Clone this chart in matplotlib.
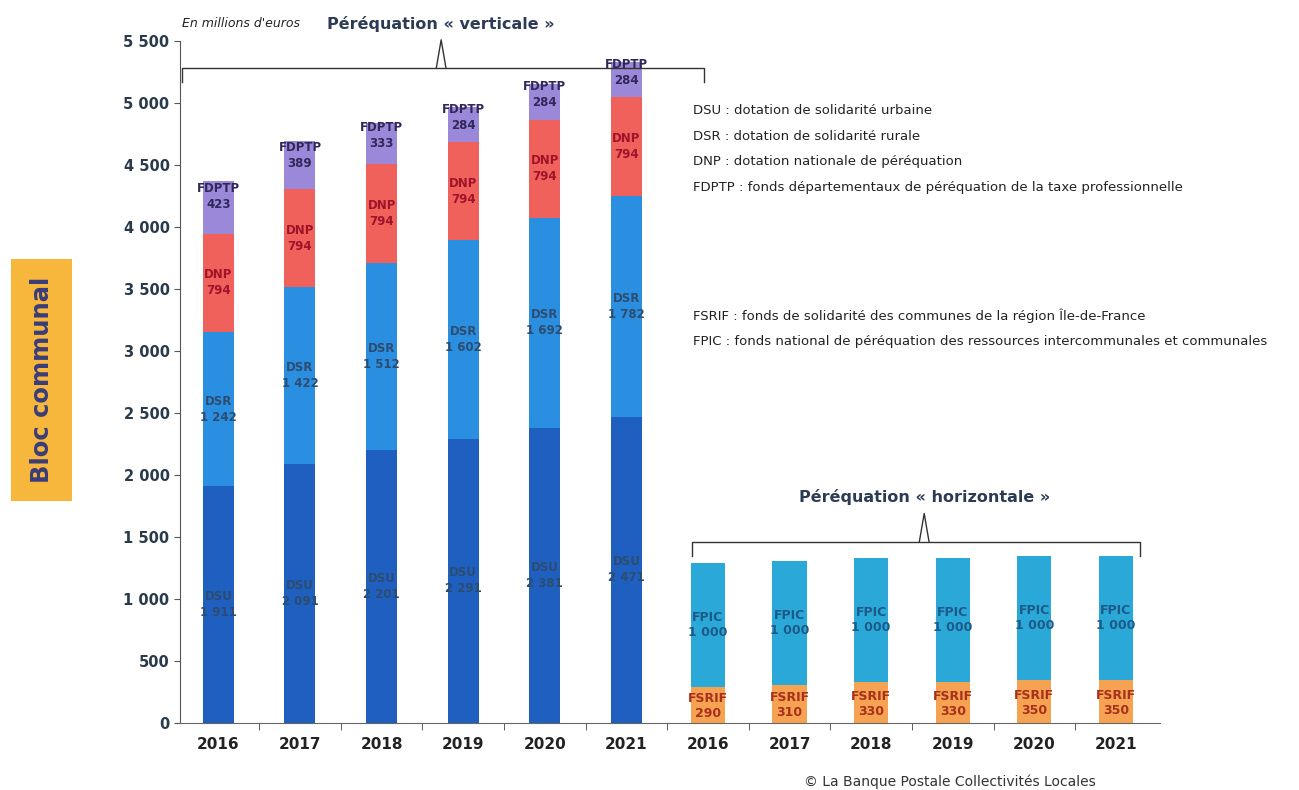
import matplotlib.pyplot as plt
import numpy as np

# data (millions d'euros)
years = ["2016", "2017", "2018", "2019", "2020", "2021"]
dsu = [1911, 2091, 2201, 2291, 2381, 2471]
dsr = [1242, 1422, 1512, 1602, 1692, 1782]
dnp = [794, 794, 794, 794, 794, 794]
fdptp = [423, 389, 333, 284, 284, 284]
fsrif = [290, 310, 330, 330, 350, 350]
fpic = [1000, 1000, 1000, 1000, 1000, 1000]

defs_vert = ["DSU : dotation de solidarité urbaine",
             "DSR : dotation de solidarité rurale",
             "DNP : dotation nationale de péréquation",
             "FDPTP : fonds départementaux de péréquation de la taxe professionnelle"]
defs_horiz = ["FSRIF : fonds de solidarité des communes de la région Île-de-France",
              "FPIC : fonds national de péréquation des ressources intercommunales et communales"]

fam = ["DejaVu Sans"]

def fmt(v):
    return "{:,}".format(v).replace(",", " ")

fig = plt.figure(figsize=(12.99, 7.90), dpi=100)
ax = fig.add_axes([0.1386, 0.0848, 0.7544, 0.8632])

n = len(years)
xv = np.arange(n)
xh = np.arange(n) + n

# stacked "verticale" bars
segs = [("DSU", dsu, "#1f5fc0", "#2d4d70"),
        ("DSR", dsr, "#2a8fe0", "#2d4d70"),
        ("DNP", dnp, "#f0615c", "#a0142a"),
        ("FDPTP", fdptp, "#9c88d8", "#30285a")]
bottom = np.zeros(n)
for name, vals, col, tcol in segs:
    vals = np.array(vals)
    ax.bar(xv, vals, 0.38, bottom=bottom, color=col, zorder=2)
    for i in range(n):
        yy = bottom[i] + vals[i] / 2
        if name == "FDPTP":
            yy = bottom[i] + vals[i] * 0.7
        ax.text(xv[i], yy, name + "\n" + fmt(int(vals[i])), ha="center", va="center",
                fontsize=8.5, color=tcol, family=fam, fontweight="bold", linespacing=1.3, zorder=3)
    bottom = bottom + vals

# stacked "horizontale" bars
segs_h = [("FSRIF", fsrif, "#f5a352", "#a8301c"),
          ("FPIC", fpic, "#2aa9d9", "#1d5a88")]
bottom = np.zeros(n)
for name, vals, col, tcol in segs_h:
    vals = np.array(vals)
    ax.bar(xh, vals, 0.42, bottom=bottom, color=col, zorder=2)
    for i in range(n):
        ax.text(xh[i], bottom[i] + vals[i] / 2 - (0 if name == "FPIC" else 10),
                name + "\n" + fmt(int(vals[i])), ha="center", va="center",
                fontsize=9, color=tcol, family=fam, fontweight="bold", linespacing=1.2, zorder=3)
    bottom = bottom + vals

ax.set_xlim(-0.47, 11.54)
ax.set_ylim(0, 5500)
ax.set_yticks(np.arange(0, 5501, 500))
ax.set_yticklabels([fmt(v) for v in range(0, 5501, 500)], fontsize=10.5,
                   fontweight="bold", color="#2a3a4a")
ax.set_xticks(np.concatenate([xv, xh]))
ax.set_xticklabels(years + years, fontsize=11, fontweight="bold", color="#222222")
ax.set_xticks(np.arange(0.5, 11.5, 1), minor=True)
ax.tick_params(axis="x", which="major", length=0, pad=10)
ax.tick_params(axis="x", which="minor", length=5, color="#444444")
ax.tick_params(axis="y", length=4, color="#555555")
for s in ["top", "right"]:
    ax.spines[s].set_visible(False)
ax.spines["left"].set_color("#555555")
ax.spines["bottom"].set_color("#666666")


def brace(x0, x1, xm, y, h, up):
    kw = dict(color="#333333", lw=1.0, clip_on=False, zorder=4)
    ax.plot([x0, x0, x1, x1], [y - h, y, y, y - h], **kw)
    ax.plot([xm - 0.06, xm, xm + 0.06], [y, y + up, y], **kw)

brace(-0.44, 5.95, 2.73, 5280, 110, 230)
brace(5.8, 11.3, 8.65, 1460, 110, 230)

ax.text(2.73, 5640, "Péréquation « verticale »", ha="center", va="center",
        fontsize=11.5, fontweight="bold", color="#2d3b55", family=fam, clip_on=False)
ax.text(-0.45, 5640, "En millions d'euros", ha="left", va="center", fontsize=9,
        style="italic", color="#222222", family=fam, clip_on=False)
ax.text(8.65, 1820, "Péréquation « horizontale »", ha="center", va="center",
        fontsize=11.5, fontweight="bold", color="#2d3b55", family=fam)

for k, t in enumerate(defs_vert):
    fig.text(0.5335, 1 - (110 + 26 * k) / 790, t, ha="left", va="center",
             fontsize=9.5, color="#222222", family=fam)
for k, t in enumerate(defs_horiz):
    fig.text(0.5335, 1 - (316 + 26 * k) / 790, t, ha="left", va="center",
             fontsize=9.5, color="#222222", family=fam)

fig.text(0.032, 1 - 380 / 790, "Bloc communal", rotation=90, ha="center", va="center",
         fontsize=17.5, fontweight="bold", color="#3a3d7a",
         bbox=dict(boxstyle="square,pad=0.75", fc="#f6b73c", ec="none"))

fig.text(0.731, 1 - 782 / 790, "© La Banque Postale Collectivités Locales", ha="center",
         va="center", fontsize=10, color="#333333", family=fam)

fig.savefig("out.png", dpi=100)
